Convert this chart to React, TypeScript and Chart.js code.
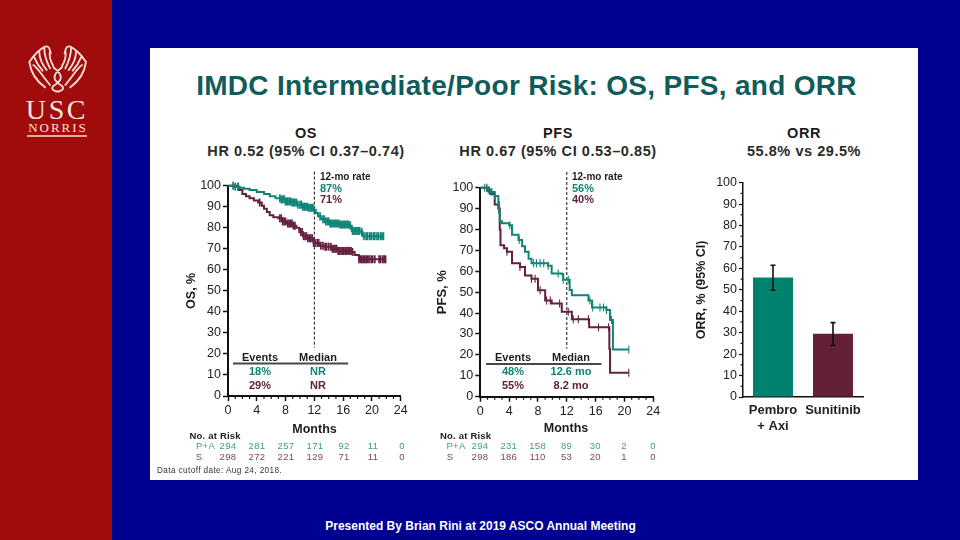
import React, { useEffect, useRef } from "react";
import { Chart, registerables } from "chart.js";

Chart.register(...registerables);

const SANS = '"Liberation Sans", Arial, sans-serif';
const TEAL = "#0f8577";
const MAROON = "#632140";

const osPaMonths = [0, 0.8, 1.5, 2.2, 3, 4, 5, 5.8, 6.6, 7.3, 8, 8.8, 9.6, 10.4, 11.2, 11.9, 12.2, 12.5, 12.9, 13.5, 14.2, 15.5, 16.9, 17.2, 18.5, 18.7, 21.6];
const osPaPct = [100, 99.5, 99, 98.5, 98, 97, 96, 95, 94, 93.5, 92.5, 92, 91, 90, 89.5, 88.5, 87, 85.5, 84, 83, 82, 81.5, 81, 78.5, 78, 76, 76];
const osSMonths = [0, 1.2, 1.6, 2, 2.5, 3, 3.6, 4.2, 4.7, 5, 5.4, 5.8, 6.3, 7, 7.6, 8.2, 9, 9.5, 9.9, 10.4, 11, 11.9, 12.8, 13.5, 14.5, 15.2, 17.2, 17.6, 18.2, 21.9];
const osSPct = [100, 99.5, 98, 96, 95, 94, 93, 92, 90.5, 89, 87.5, 86, 85, 84.5, 83, 82, 81, 80, 78, 76, 75, 72.8, 71.5, 71, 70, 69, 68.5, 67, 65, 65];
const osPaCensor = [0.7, 1, 1.4, 7.2, 7.4, 7.6, 7.8, 8, 8.15, 8.3, 8.5, 8.7, 8.9, 9.1, 9.3, 9.5, 9.7, 10, 10.2, 10.4, 10.6, 10.8, 11, 11.2, 11.4, 11.6, 11.8, 12, 12.8, 13.2, 13.4, 13.6, 13.8, 14, 14.2, 14.4, 14.6, 14.8, 15, 15.2, 15.4, 15.6, 15.8, 16, 16.2, 16.4, 16.6, 16.8, 17, 17.3, 17.5, 17.7, 17.9, 18.1, 18.3, 18.6, 18.9, 19.2, 19.4, 19.7, 19.9, 20.2, 20.4, 20.7, 20.9, 21.2, 21.4, 21.6];
const osSCensor = [1.4, 4.4, 7.2, 7.4, 7.6, 7.8, 8, 8.3, 8.5, 8.7, 8.9, 9.1, 9.3, 10.1, 10.3, 10.5, 10.7, 10.9, 11.1, 11.3, 11.5, 11.7, 11.9, 12.1, 12.4, 12.6, 12.9, 13.2, 13.5, 13.7, 14, 14.3, 14.5, 14.7, 14.9, 15.1, 15.3, 15.5, 15.7, 15.9, 16.1, 16.3, 16.5, 16.7, 16.9, 17.1, 17.3, 18.2, 18.4, 18.6, 18.8, 19, 19.2, 19.4, 19.6, 19.9, 20.1, 20.4, 21, 21.2, 21.5, 21.7, 21.9];

const pfsPaMonths = [0, 1, 1.5, 2, 2.5, 2.6, 2.7, 3, 4, 4.4, 5.3, 5.8, 6.2, 6.7, 7.1, 9.4, 9.9, 11.3, 11.5, 12.2, 12.4, 12.7, 15, 15.5, 17.5, 18, 18.4, 20.6];
const pfsPaPct = [100, 99, 98, 96, 93, 88, 84, 83, 82, 77.5, 75, 72, 69.4, 66, 63.8, 62.7, 59, 58.7, 56, 56, 51, 48.6, 46, 42.7, 41.5, 36.7, 22.6, 22.6];
const pfsSMonths = [0, 1, 1.5, 2, 2.5, 2.7, 2.8, 3.3, 3.7, 4.4, 5.5, 6.2, 7.1, 8, 9, 9.9, 11.3, 12.7, 15.1, 17.9, 18, 20.6];
const pfsSPct = [100, 98.5, 97, 92, 90, 80, 72.5, 71, 69.4, 63.8, 62, 58, 56.4, 50.9, 46, 44.6, 40.7, 37, 33.2, 23, 11.5, 11.5];
const pfsPaCensor = [0.6, 1.1, 1.6, 2, 4.1, 5.4, 7.4, 7.8, 8.3, 8.8, 9.4, 10.8, 11.5, 12.2, 15.2, 15.6, 16.6, 17.1, 17.5, 18.2, 20.6];
const pfsSCensor = [0.9, 1.3, 3.7, 5.5, 7.1, 7.6, 8.3, 9.2, 9.7, 11, 12.2, 12.9, 13.6, 15, 16.4, 17.8, 20.6];

const orrCategories = [["Pembro", "+ Axi"], "Sunitinib"];
const orrValues = [55.8, 29.5];
const orrCiLow = [49.8, 24.1];
const orrCiHigh = [61.5, 34.7];

const riskMonths = [0, 4, 8, 12, 16, 20, 24];
const osRiskPa = [294, 281, 257, 171, 92, 11, 0];
const osRiskS = [298, 272, 221, 129, 71, 11, 0];
const pfsRiskPa = [294, 231, 158, 89, 30, 2, 0];
const pfsRiskS = [298, 186, 110, 53, 20, 1, 0];

const zip = (xs: number[], ys: number[]) => xs.map((x, i) => ({ x, y: ys[i] }));
const stepAt = (xs: number[], ys: number[], t: number) => {
  let v = ys[0];
  xs.forEach((x, i) => { if (x <= t) v = ys[i]; });
  return v;
};

const minorTicks = {
  id: "minorTicks",
  afterDatasetsDraw(chart: any, _a: any, o: any) {
    const { ctx } = chart;
    ctx.save();
    ctx.strokeStyle = "#111";
    ctx.lineWidth = 1.2;
    if (o.x) {
      const s = chart.scales.x;
      for (const v of o.x) {
        const p = s.getPixelForValue(v);
        ctx.beginPath(); ctx.moveTo(p, s.top); ctx.lineTo(p, s.top + 3); ctx.stroke();
      }
    }
    if (o.y) {
      const s = chart.scales.y;
      for (const v of o.y) {
        const p = s.getPixelForValue(v);
        ctx.beginPath(); ctx.moveTo(s.right, p); ctx.lineTo(s.right - 2.5, p); ctx.stroke();
      }
    }
    ctx.restore();
  },
};

const errorBars = {
  id: "errorBars",
  afterDatasetsDraw(chart: any) {
    const { ctx } = chart;
    const xs = chart.scales.x, ys = chart.scales.y;
    ctx.save();
    ctx.strokeStyle = "#111";
    ctx.lineWidth = 1.6;
    orrValues.forEach((_, i) => {
      const x = xs.getPixelForValue(i);
      const lo = ys.getPixelForValue(orrCiLow[i]);
      const hi = ys.getPixelForValue(orrCiHigh[i]);
      ctx.beginPath();
      ctx.moveTo(x, lo); ctx.lineTo(x, hi);
      ctx.moveTo(x - 2.5, lo); ctx.lineTo(x + 2.5, lo);
      ctx.moveTo(x - 2.5, hi); ctx.lineTo(x + 2.5, hi);
      ctx.stroke();
    });
    ctx.restore();
  },
};

const oneToTwentyFour = [1, 2, 3, 5, 6, 7, 9, 10, 11, 13, 14, 15, 17, 18, 19, 21, 22, 23];
const fivesOdd = [5, 15, 25, 35, 45, 55, 65, 75, 85, 95];

function KM(props: any) {
  const ref = useRef<HTMLCanvasElement>(null);
  const { left, top, width, height, chartLeft, chartRight, chartTop, chartBottom, yTitle, yTitlePad, yTitleSize, paM, paP, sM, sP, paC, sC, dashTop, dashBottom, ruleY, ruleFrom, ruleTo, tickW } = props;
  useEffect(() => {
    const censor = (ms: number[], ps: number[], ts: number[], c: string) => ({
      data: ts.map((t) => ({ x: t, y: stepAt(ms, ps, t) })),
      showLine: false, pointStyle: "line", pointRotation: 90, pointRadius: 4,
      pointBorderColor: c, pointBorderWidth: tickW, borderColor: c, clip: false,
    });
    const chart = new Chart(ref.current!, {
      type: "line",
      data: {
        datasets: [
          { data: zip(paM, paP), stepped: true, borderColor: TEAL, borderWidth: 2, pointRadius: 0, clip: false },
          censor(paM, paP, paC, TEAL),
          { data: zip(sM, sP), stepped: true, borderColor: MAROON, borderWidth: 2, pointRadius: 0, clip: false },
          censor(sM, sP, sC, MAROON),
          { data: [{ x: 12, y: dashTop }, { x: 12, y: dashBottom }], borderColor: "#111", borderWidth: 1, borderDash: [3, 2], pointRadius: 0, clip: false },
          { data: [{ x: ruleFrom, y: ruleY }, { x: ruleTo, y: ruleY }], borderColor: "#44494d", borderWidth: 2, pointRadius: 0, clip: false },
        ] as any,
      },
      options: {
        animation: false, responsive: false, devicePixelRatio: 1,
        layout: { padding: { top: chartTop, right: width - chartRight, left: 0, bottom: 0 } },
        plugins: { legend: { display: false }, tooltip: { enabled: false }, minorTicks: { x: oneToTwentyFour } } as any,
        scales: {
          x: {
            type: "linear", min: 0, max: 24,
            afterFit: (s: any) => { s.height = height - chartBottom; },
            grid: { drawOnChartArea: false, tickLength: 5, tickColor: "#111", tickWidth: 1.5 },
            border: { color: "#111", width: 2 },
            ticks: { stepSize: 4, maxRotation: 0, autoSkip: false, padding: 2, color: "#222", font: { family: SANS, size: 12.5 } },
            title: { display: false },
          },
          y: {
            min: 0, max: 100,
            afterFit: (s: any) => { s.width = chartLeft; },
            grid: { drawOnChartArea: false, tickLength: 5, tickColor: "#111", tickWidth: 1.5 },
            border: { color: "#111", width: 2 },
            ticks: { stepSize: 10, padding: 2, color: "#222", font: { family: SANS, size: 12.5 } },
            title: { display: true, text: yTitle, color: "#1c1c1c", font: { family: SANS, size: yTitleSize, weight: "bold" }, padding: { top: yTitlePad, bottom: 0 } },
          },
        },
      } as any,
      plugins: [minorTicks],
    });
    return () => chart.destroy();
  }, []);
  return <canvas ref={ref} width={width} height={height} style={{ position: "absolute", left, top, width, height }} />;
}

function OrrBars() {
  const ref = useRef<HTMLCanvasElement>(null);
  useEffect(() => {
    const chart = new Chart(ref.current!, {
      type: "bar",
      data: {
        labels: orrCategories as any,
        datasets: [{ data: orrValues, backgroundColor: ["#00826f", "#642039"], barPercentage: 0.667, categoryPercentage: 1 }],
      },
      options: {
        animation: false, responsive: false, devicePixelRatio: 1,
        layout: { padding: { top: 12.7, right: 17, left: 0, bottom: 0 } },
        plugins: { legend: { display: false }, tooltip: { enabled: false }, minorTicks: { y: fivesOdd } } as any,
        scales: {
          x: {
            afterFit: (s: any) => { s.height = 53; },
            grid: { display: false, drawTicks: false },
            border: { color: "#111", width: 1.5 },
            ticks: { maxRotation: 0, autoSkip: false, padding: 5, color: "#222", font: { family: SANS, size: 13, weight: "bold", lineHeight: 1.25 } },
          },
          y: {
            min: 0, max: 100,
            afterFit: (s: any) => { s.width = 53; },
            grid: { drawOnChartArea: false, tickLength: 4, tickColor: "#111", tickWidth: 1.2 },
            border: { color: "#111", width: 1.5 },
            ticks: { stepSize: 10, padding: 2, color: "#222", font: { family: SANS, size: 12.5 } },
            title: { display: true, text: "ORR, % (95% CI)", color: "#1c1c1c", font: { family: SANS, size: 12.5, weight: "bold" }, padding: { top: 4, bottom: 0 } },
          },
        },
      } as any,
      plugins: [minorTicks, errorBars],
    });
    return () => chart.destroy();
  }, []);
  return <canvas ref={ref} width={190} height={280} style={{ position: "absolute", left: 690, top: 170, width: 190, height: 280 }} />;
}

function T(p: any) {
  const { x, y, children, color, size, bold, align, spacing, font, shadow } = p;
  const transform = align === "center" ? "translate(-50%,-50%)" : "translateY(-50%)";
  return (
    <div style={{ position: "absolute", left: x, top: y, transform, color: color || "#1c1c1c", fontSize: size, fontWeight: bold ? 700 : 400, fontFamily: font || SANS, letterSpacing: spacing, textShadow: shadow, whiteSpace: "nowrap", lineHeight: 1 }}>
      {children}
    </div>
  );
}

function Risk(p: any) {
  const { x0, x24, label, labelX, y, values, color } = p;
  return (
    <>
      <T x={labelX} y={y} size={9.5} color={color} align="center" spacing={0.3}>{label}</T>
      {values.map((v: number, i: number) => (
        <T key={i} x={x0 + ((x24 - x0) * riskMonths[i]) / 24} y={y} size={9.5} color={color} align="center" spacing={0.3}>{v}</T>
      ))}
    </>
  );
}

function Logo() {
  const hand = "M88 96 C100 78 115 60 135 50 C148 46 150 60 152 70 M88 96 C92 125 105 150 135 172 M103 82 C108 95 115 108 128 122 M118 66 C118 85 128 105 140 120 M133 54 C132 75 140 95 150 115 M150 62 C146 80 152 95 160 108 M100 105 C115 115 125 135 150 165";
  return (
    <svg viewBox="0 0 480 360" style={{ position: "absolute", left: 0, top: 30, width: 160, height: 120 }}>
      <g fill="none" stroke="#f7ded6" strokeWidth={5.5} strokeLinecap="round">
        <path d={hand} />
        <g transform="translate(346,0) scale(-1,1)"><path d={hand} /></g>
        <path d="M160 112 C190 135 190 150 160 168 C150 178 165 186 180 184 M186 112 C156 135 156 150 186 168 C196 178 181 186 166 184" />
      </g>
    </svg>
  );
}

export default function App() {
  return (
    <div style={{ position: "fixed", left: 0, top: 0, width: 960, height: 540, background: "#000091", overflow: "hidden", fontFamily: SANS }}>
      <div style={{ position: "absolute", left: 0, top: 0, width: 112, height: 540, background: "#a00b0b" }} />
      <Logo />
      <T x={57} y={109.5} size={28} color="#f7e4de" align="center" spacing={2.6} font='"Liberation Serif", serif'>USC</T>
      <T x={58} y={127} size={13} color="#f7e4de" align="center" spacing={2} font='"Liberation Serif", serif'>NORRIS</T>
      <div style={{ position: "absolute", left: 27, top: 135, width: 60, height: 1.5, background: "#eaa99c" }} />
      <div style={{ position: "absolute", left: 150, top: 48, width: 768, height: 432, background: "#fff" }} />

      <T x={526.5} y={86} size={28} bold color="#0f5c5a" align="center" spacing={0.3}>IMDC Intermediate/Poor Risk: OS, PFS, and ORR</T>
      <T x={306} y={133} size={14.5} bold align="center" spacing={0.55}>OS</T>
      <T x={306} y={150.5} size={14.5} bold color="#2a2a2a" align="center" spacing={0.55}>HR 0.52 (95% CI 0.37–0.74)</T>
      <T x={558} y={133} size={14.5} bold align="center" spacing={0.55}>PFS</T>
      <T x={558} y={150.5} size={14.5} bold color="#2a2a2a" align="center" spacing={0.55}>HR 0.67 (95% CI 0.53–0.85)</T>
      <T x={804} y={133} size={14.5} bold align="center" spacing={0.55}>ORR</T>
      <T x={804} y={150.5} size={14.5} bold color="#2a2a2a" align="center" spacing={0.55}>55.8% vs 29.5%</T>

      <KM left={170} top={170} width={240} height={260} chartLeft={58} chartRight={230.7} chartTop={15.7} chartBottom={226} tickW={1.7}
        yTitle="OS, %" yTitlePad={14} yTitleSize={12.5} paM={osPaMonths} paP={osPaPct} sM={osSMonths} sP={osSPct} paC={osPaCensor} sC={osSCensor} dashTop={106.7} dashBottom={23} ruleY={15.5} ruleFrom={0.7} ruleTo={16.7} />
      <KM left={425} top={170} width={240} height={260} chartLeft={55.3} chartRight={228.3} chartTop={17.7} chartBottom={226.7} tickW={1.1}
        yTitle="PFS, %" yTitlePad={10} yTitleSize={13} paM={pfsPaMonths} paP={pfsPaPct} sM={pfsSMonths} sP={pfsSPct} paC={pfsPaCensor} sC={pfsSCensor} dashTop={107.5} dashBottom={23} ruleY={15.7} ruleFrom={0.8} ruleTo={16.8} />
      <OrrBars />

      <T x={320} y={176.5} size={10} bold>12-mo rate</T>
      <T x={320} y={188} size={11} bold color={TEAL}>87%</T>
      <T x={320} y={199} size={11} bold color={MAROON}>71%</T>
      <T x={572} y={176.5} size={10} bold>12-mo rate</T>
      <T x={572} y={188} size={11} bold color={TEAL}>56%</T>
      <T x={572} y={199} size={11} bold color={MAROON}>40%</T>

      <T x={260} y={357} size={11} bold align="center">Events</T>
      <T x={318} y={357} size={11} bold align="center">Median</T>
      <T x={260} y={371} size={11} bold color={TEAL} align="center">18%</T>
      <T x={318} y={371} size={11} bold color={TEAL} align="center">NR</T>
      <T x={260} y={385} size={11} bold color={MAROON} align="center">29%</T>
      <T x={318} y={385} size={11} bold color={MAROON} align="center">NR</T>

      <T x={513} y={357} size={11} bold align="center">Events</T>
      <T x={571} y={357} size={11} bold align="center">Median</T>
      <T x={513} y={371} size={11} bold color={TEAL} align="center">48%</T>
      <T x={571} y={371} size={11} bold color={TEAL} align="center">12.6 mo</T>
      <T x={513} y={385} size={11} bold color={MAROON} align="center">55%</T>
      <T x={571} y={385} size={11} bold color={MAROON} align="center">8.2 mo</T>

      <T x={314.5} y={429} size={12.5} bold align="center">Months</T>
      <T x={566} y={428} size={12.5} bold align="center">Months</T>

      <T x={189.5} y={436} size={9.5} bold spacing={0.2}>No. at Risk</T>
      <Risk x0={228} x24={402} label="P+A" labelX={205.5} y={446} values={osRiskPa} color="#3f9c8e" />
      <Risk x0={228} x24={402} label="S" labelX={199} y={456.5} values={osRiskS} color="#74495f" />
      <T x={440} y={436} size={9.5} bold spacing={0.2}>No. at Risk</T>
      <Risk x0={480} x24={653} label="P+A" labelX={456} y={446} values={pfsRiskPa} color="#3f9c8e" />
      <Risk x0={480} x24={653} label="S" labelX={450} y={456.5} values={pfsRiskS} color="#74495f" />

      <T x={157} y={471} size={8.2} color="#333" spacing={0.4}>Data cutoff date: Aug 24, 2018.</T>

      <T x={480.5} y={525.5} size={12} bold color="#fff" align="center">Presented By Brian Rini at 2019 ASCO Annual Meeting</T>
    </div>
  );
}
